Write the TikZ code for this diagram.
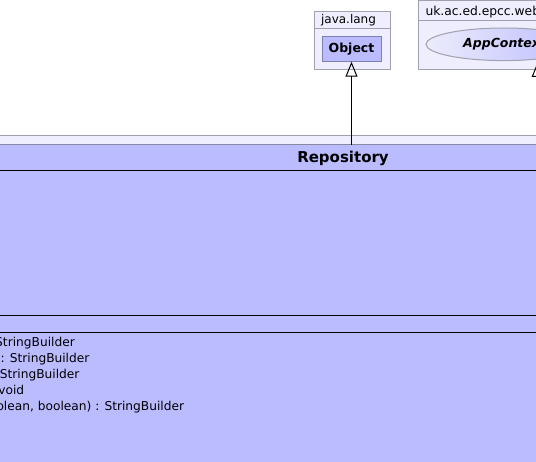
\documentclass[tikz,border=0pt]{standalone}
\usepackage{fontspec}
\setmainfont{DejaVu Sans}
\usetikzlibrary{shapes.geometric,arrows.meta}
\definecolor{pkgfill}{RGB}{238,238,255}
\definecolor{pkgline}{RGB}{160,160,176}
\definecolor{clsfill}{RGB}{187,187,255}
\definecolor{clsline}{RGB}{128,128,176}
\definecolor{ellleft}{RGB}{236,236,252}
\begin{document}
\begin{tikzpicture}[x=1pt,y=-1pt,
  pkg/.style={draw=pkgline, fill=pkgfill, line width=1pt, inner sep=0pt, outer sep=0pt},
  pkgtxt/.style={inner sep=0pt, font=\fontsize{12}{14}\selectfont},
  clsbox/.style={draw=clsline, fill=clsfill, line width=1pt, inner sep=0pt, outer sep=0pt},
  bigcls/.style={fill=clsfill, draw=none, inner sep=0pt, outer sep=0pt},
  sepline/.style={draw=black, line width=1pt},
  tabline/.style={draw=pkgline, line width=1pt},
  mtxt/.style={inner sep=0pt, font=\fontsize{12.2}{14}\selectfont},
  inh/.style={draw=black, line width=1pt, -{Triangle[open, length=15pt, width=12pt, line width=1pt]}}
]
\useasboundingbox (0,0) rectangle (536,462);
\clip (0,0) rectangle (536,462);
\fill[white] (0,0) rectangle (536,462);

% java.lang package
\node[pkg, minimum width=76.7pt, minimum height=57.5pt] (jl) at (352.35,40.45) {};
\draw[tabline] (jl.west |- 0,29) -- (jl.east |- 0,29);
\node[pkgtxt] (jltxt) at (348.5,20.3) {java.lang};
\node[clsbox, minimum width=59pt, minimum height=24.7pt, font=\fontsize{12.5}{14}\bfseries] (obj) at (351.5,49.35) {Object};

% web package
\node[pkg, anchor=north west, minimum width=300pt, minimum height=68.3pt] (web) at (418.3,1) {};
\draw[tabline] (web.west |- 0,20.7) -- (web.east |- 0,20.7);
\node[inner sep=0pt, font=\fontsize{12.3}{14}\selectfont, anchor=base west] (webtxt) at (425.3,15.5) {uk.ac.ed.epcc.web};
\node[ellipse, draw=pkgline, line width=1pt, left color=ellleft, right color=clsfill,
      minimum width=156pt, minimum height=32.6pt, inner sep=0pt] (app) at (504,44.3) {};
\node[inner sep=0pt, font=\fontsize{12.5}{14}\bfseries\itshape, anchor=west] (apptxt) at (463,44.6) {AppContext};
\coordinate (apptip) at (537.7,62);

% Repository package and class
\node[pkg, anchor=north, minimum width=1200pt, minimum height=400pt] (rpkg) at (343,136) {};
\node[bigcls, anchor=north, minimum width=1200pt, minimum height=380pt] (repo) at (343,145) {};
\draw[draw={rgb,255:red,136;green,136;blue,160}, line width=1pt] (repo.north west) -- (repo.north east);
\node[inner sep=0pt, font=\fontsize{15}{17}\bfseries] (repotxt) at (343,158) {Repository};
\draw[sepline] (repo.west |- 0,171) -- (repo.east |- 0,171);
\draw[sepline] (repo.west |- 0,316) -- (repo.east |- 0,316);
\draw[sepline] (repo.west |- 0,333) -- (repo.east |- 0,333);

% methods
\node[mtxt, anchor=base east] (m1) at (75,346.7) {StringBuilder};
\node[mtxt, anchor=base east] (m2) at (89.6,362.7) {: StringBuilder};
\node[mtxt, anchor=base east] (m3) at (79.6,378.7) {StringBuilder};
\node[mtxt, anchor=base east] (m4) at (24.4,394.7) {void};
\node[mtxt, anchor=base east] (m5) at (184.3,410.7) {olean, boolean) : StringBuilder};

% generalisations
\draw[inh] (repo.north -| obj.south) -- (obj.south);
\draw[inh] (repo.north -| apptip) -- (apptip);
\end{tikzpicture}
\end{document}
